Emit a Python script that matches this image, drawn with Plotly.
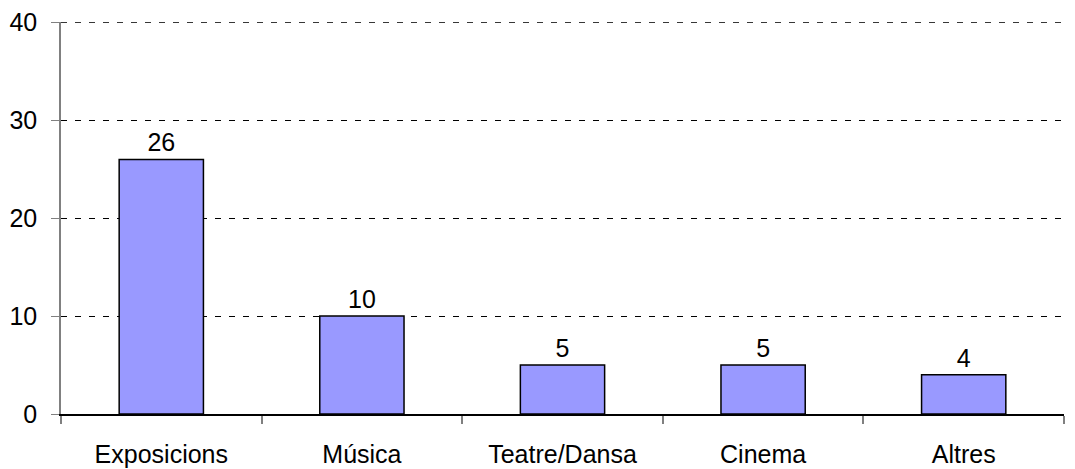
import plotly.graph_objects as go

categories = ["Exposicions", "Música", "Teatre/Dansa", "Cinema", "Altres"]
values = [26, 10, 5, 5, 4]
y_ticks = [0, 10, 20, 30, 40]

FONT = "Liberation Sans, Arial"
FS = 25
DASH = "6px,8px"

fig = go.Figure(go.Bar(
    x=categories, y=values,
    marker=dict(color="#9999FF", line=dict(color="black", width=1.5)),
    width=0.42,
    text=[str(v) for v in values], textposition="outside",
    textfont=dict(family=FONT, size=FS, color="black"),
    cliponaxis=False,
))

# gridline at the top of the range (plotly skips the edge gridline)
fig.add_shape(type="line", xref="paper", x0=0, x1=1, yref="y", y0=y_ticks[-1], y1=y_ticks[-1],
              line=dict(color="black", width=1, dash=DASH), layer="below")

# page body has an 8px margin, so the figure is shrunk to keep the plot area in place
fig.update_layout(
    width=1067, height=461,
    margin=dict(l=53, r=11, t=14, b=55),
    plot_bgcolor="white", paper_bgcolor="white",
    font=dict(family=FONT, size=FS, color="black"),
    showlegend=False,
)
fig.update_xaxes(
    automargin=False,
    showline=True, linecolor="black", linewidth=1.5,
    ticks="outside", tickson="boundaries", ticklen=8, tickcolor="#808080", tickwidth=1.5,
    ticklabelstandoff=17,
    showgrid=False, tickfont=dict(family=FONT, size=FS),
)
fig.update_yaxes(
    automargin=False,
    range=[0, 40.03], tickvals=y_ticks, ticks="outside", ticklen=8, tickcolor="#808080", tickwidth=1,
    ticklabelstandoff=9,
    showline=True, linecolor="#808080", linewidth=1.5,
    showgrid=True, gridcolor="black", gridwidth=1, griddash=DASH,
    zeroline=False, tickfont=dict(family=FONT, size=FS),
)
fig.write_html("out.html")
